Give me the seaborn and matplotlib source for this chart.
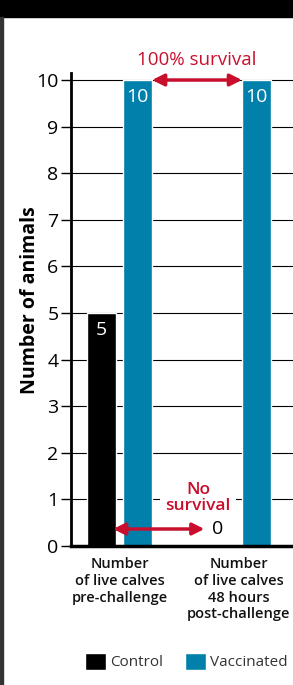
import pandas as pd
import matplotlib
matplotlib.use("Agg")
from matplotlib import pyplot as plt
from matplotlib.patches import Rectangle
import seaborn as sns

# Chart data
categories = ["Number\nof live calves\npre-challenge",
              "Number\nof live calves\n48 hours\npost-challenge"]
groups = ["Control", "Vaccinated"]
control = [5, 0]
vaccinated = [10, 10]
y_ticks = list(range(0, 11))

palette = {"Control": "#000000", "Vaccinated": "#0080AB"}
red = "#C8102E"

df = pd.DataFrame({
    "stage": categories * 2,
    "group": [groups[0]] * len(categories) + [groups[1]] * len(categories),
    "animals": control + vaccinated,
})

sns.set_style("white")
plt.rcParams["font.family"] = ["Open Sans", "DejaVu Sans"]

fig = plt.figure(figsize=(2.93, 6.85), dpi=100)
ax = fig.add_axes([0.2423, 0.2029, 0.7577, 0.6905])

sns.barplot(data=df, x="stage", y="animals", hue="group", palette=palette,
            order=categories, hue_order=groups, width=0.605, gap=0.194,
            saturation=1, ax=ax)

ax.set_xlim(-0.408, 1.458)
ax.set_ylim(0, 10.15)
ax.set_yticks(y_ticks)
ax.set_xlabel("")
ax.set_ylabel("Number of animals", fontsize=14, fontweight="bold", color="black")
ax.yaxis.set_label_coords(-0.14, 0.52)

# gridlines behind the bars
ax.set_axisbelow(True)
ax.yaxis.grid(True, color="black", linewidth=0.8)
ax.xaxis.grid(False)

for side in ["top", "right"]:
    ax.spines[side].set_visible(False)
ax.spines["left"].set_linewidth(2)
ax.spines["left"].set_color("black")
ax.spines["bottom"].set_linewidth(2.5)
ax.spines["bottom"].set_color("black")

ax.tick_params(axis="y", left=True, length=7, width=1, pad=2, labelsize=14,
               colors="black")
ax.tick_params(axis="x", length=0, pad=8, labelsize=10.5, colors="#111111")
for lbl in ax.get_xticklabels():
    lbl.set_fontweight("semibold")
    lbl.set_linespacing(1.25)
for lbl in ax.get_yticklabels():
    lbl.set_fontweight("medium")

# value labels inside bars
for cont in ax.containers:
    for bar in cont:
        h = bar.get_height()
        if h > 0:
            ax.annotate(f"{h:g}", (bar.get_x() + bar.get_width() / 2, h),
                        xytext=(0, -12.5), textcoords="offset points",
                        ha="center", va="center", color="white", fontsize=14,
                        fontweight="medium")

# 100% survival arrow between vaccinated bars
vacc = ax.containers[1]
left = vacc[0].get_x() + vacc[0].get_width()
right = vacc[1].get_x()
ax.annotate("", xy=(left, 10), xytext=(right, 10),
            arrowprops=dict(arrowstyle="<|-|>,head_length=0.7,head_width=0.35",
                            color=red, lw=2.5, shrinkA=0, shrinkB=0),
            annotation_clip=False)
ax.text((left + right) / 2, 10.43, "100% survival", ha="center", va="center",
        color=red, fontsize=13.5, fontweight="medium", clip_on=False)

# No survival arrow for control
ctrl = ax.containers[0]
ctrl_right = ctrl[0].get_x() + ctrl[0].get_width() - 0.025
zero_x = ctrl[1].get_x() + ctrl[1].get_width() / 2 - 0.025
ax.annotate("", xy=(ctrl_right, 0.365), xytext=(zero_x - 0.11, 0.365),
            arrowprops=dict(arrowstyle="<|-|>,head_length=0.7,head_width=0.35",
                            color=red, lw=2.5, shrinkA=0, shrinkB=0))
ax.text(zero_x, 0.365, "0", ha="center", va="center", color="black",
        fontsize=14, fontweight="medium")
ax.text(0.66, 1.03, "No\nsurvival", ha="center", va="center", color=red,
        fontsize=12.5, fontweight="semibold", linespacing=1.0,
        bbox=dict(facecolor="white", edgecolor="none", pad=4))

sns.move_legend(ax, "center", bbox_to_anchor=(0.6365, 0.0343),
                bbox_transform=fig.transFigure, ncol=2, frameon=False,
                title=None, fontsize=11, handlelength=1.36, handleheight=1.36,
                handletextpad=0.27, columnspacing=1.44, labelcolor="#333333")

# black band at the top and the frame line on the left
fig.patches.append(Rectangle((0, 1 - 17 / 685), 1, 17 / 685,
                             transform=fig.transFigure, color="black"))
fig.patches.append(Rectangle((0, 0), 3 / 293, 1 - 17 / 685,
                             transform=fig.transFigure, color="#333333"))

fig.savefig("out.png", dpi=100)
